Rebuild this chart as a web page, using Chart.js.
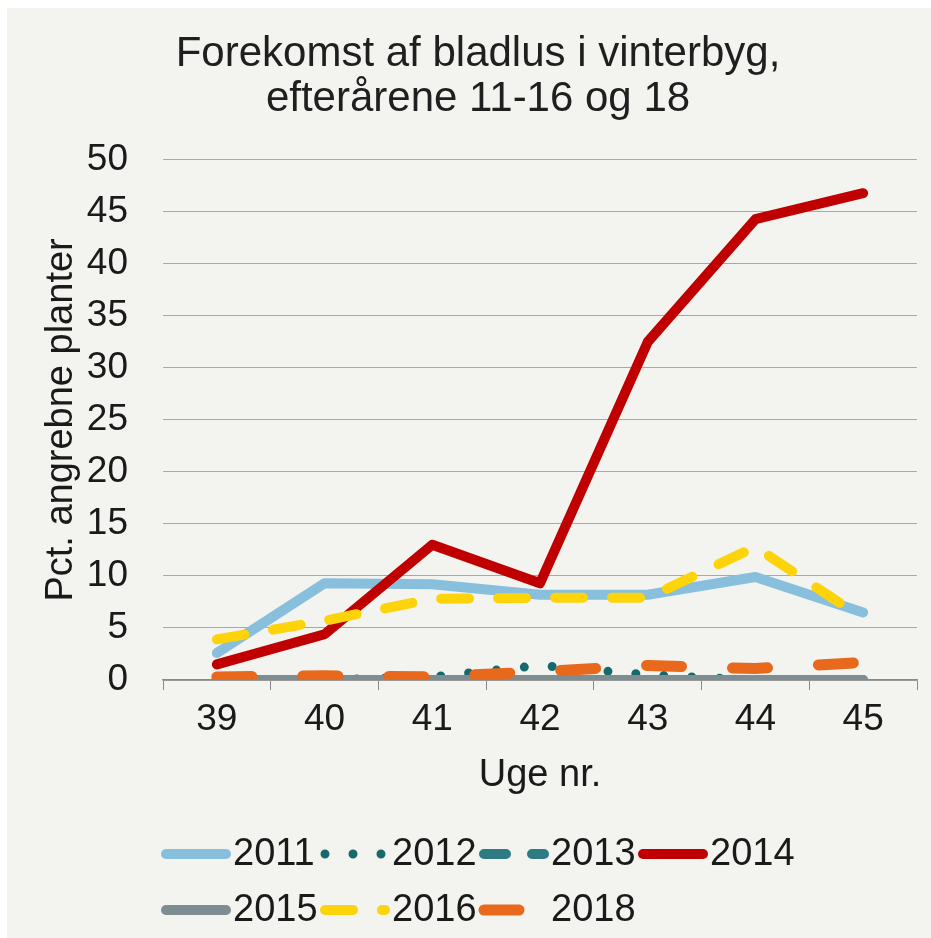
<!DOCTYPE html>
<html>
<head>
<meta charset="utf-8">
<script src="https://cdn.jsdelivr.net/npm/chart.js@4.4.1/dist/chart.umd.min.js"></script>
<style>
  html, body { margin: 0; padding: 0; background: #fff; }
  #wrap { position: absolute; left: 7px; top: 8px; width: 924px; height: 930px; background: #f3f3f0; }
</style>
</head>
<body>
<div id="wrap"><canvas id="grafico"></canvas></div>
<script>
// uger paa x-aksen
const uger = ['39', '40', '41', '42', '43', '44', '45']

// pct. angrebne planter pr. aar
const v2011 = [2.6, 9.3, 9.2, 8.2, 8.2, 9.9, 6.5]
const v2012 = [0, 0, 0.3, 1.4, 0.5, 0, 0]
const v2013 = [0, 0, 0, 0, 0, 0, 0]
const v2014 = [1.5, 4.4, 13.0, 9.3, 32.5, 44.3, 46.8]
const v2015 = [0, 0, 0, 0, 0, 0, 0]
const v2016 = [3.9, 5.7, 7.8, 7.9, 7.9, 12.8, 5.9]
const v2018 = [0.3, 0.4, 0.3, 0.8, 1.4, 1.1, 1.7]

const titel = ['Forekomst af bladlus i vinterbyg,', 'efterårene 11-16 og 18']
const font = "'Liberation Sans', Arial, sans-serif"

const serie = (label, data, color, dash, width, order) => ({
    label: label,
    data: data,
    borderColor: color,
    backgroundColor: color,
    borderWidth: width,
    borderDash: dash,
    borderCapStyle: 'round',
    borderJoinStyle: 'round',
    pointRadius: 0,
    tension: 0,
    fill: false,
    order: order
})

const datasets = [
    serie('2011', v2011, '#88bfdd', [], 10, 7),
    serie('2012', v2012, '#17696b', [0, 28], 9, 6),
    serie('2013', v2013, '#2d7c83', [22, 26], 10, 5),
    serie('2014', v2014, '#c00000', [], 10, 4),
    serie('2015', v2015, '#7e8d92', [], 10, 3),
    serie('2016', v2016, '#fdd30a', [28, 29], 10, 2),
    serie('2018', v2018, '#e8681c', [35, 51], 11, 1)
]

// egen legende i to raekker (4 + 3)
const legendPlugin = {
    id: 'toRaekker',
    afterDraw(chart) {
        const ctx = chart.ctx
        const left = chart.chartArea.left - 2
        chart.data.datasets.forEach((ds, i) => {
            const col = i < 4 ? i : i - 4
            const y = i < 4 ? chart.height - 84 : chart.height - 28
            const x = left + col * 159
            ctx.save()
            ctx.strokeStyle = ds.borderColor
            ctx.lineWidth = ds.borderWidth
            ctx.lineCap = 'round'
            ctx.setLineDash(ds.borderDash)
            ctx.beginPath()
            ctx.moveTo(x + 5, y)
            ctx.lineTo(x + 65, y)
            ctx.stroke()
            ctx.setLineDash([])
            ctx.fillStyle = '#1a1a1a'
            ctx.font = `38px ${font}`
            ctx.textBaseline = 'middle'
            ctx.fillText(ds.label, x + 72, y + 1)
            ctx.restore()
        })
    }
}

const config = {
    type: 'line',
    data: { labels: uger, datasets: datasets },
    options: {
        responsive: true,
        maintainAspectRatio: false,
        animation: false,
        layout: { padding: { left: 32, right: 14, top: 0, bottom: 140 } },
        plugins: {
            legend: { display: false },
            tooltip: { enabled: false },
            title: {
                display: true,
                text: titel,
                color: '#1f1f1f',
                font: { family: font, size: 42, weight: 'normal', lineHeight: 1.07 },
                padding: { top: 24, bottom: 38 }
            }
        },
        scales: {
            x: {
                offset: true,
                afterFit: (scale) => { scale.height = 118 },
                grid: { drawOnChartArea: false, drawTicks: true, tickLength: 10, color: '#8a8a8a', offset: true },
                border: { color: '#8a8a8a', width: 1.5 },
                ticks: { color: '#1a1a1a', font: { family: font, size: 37 }, padding: 8, maxRotation: 0 },
                title: { display: true, text: 'Uge nr.', color: '#1a1a1a', font: { family: font, size: 38 }, padding: { top: 10, bottom: 0 } }
            },
            y: {
                min: 0,
                max: 50,
                afterFit: (scale) => { scale.width = 124 },
                grid: { color: '#a8a8a8', drawTicks: false, lineWidth: 1 },
                border: { display: false },
                ticks: { stepSize: 5, color: '#1a1a1a', font: { family: font, size: 37 }, padding: 35 },
                title: { display: true, text: 'Pct. angrebne planter', color: '#1a1a1a', font: { family: font, size: 38 }, padding: { top: 0, bottom: 6 } }
            }
        }
    },
    plugins: [legendPlugin]
}

const chartjs = new Chart(document.getElementById('grafico'), config)
</script>
</body>
</html>
